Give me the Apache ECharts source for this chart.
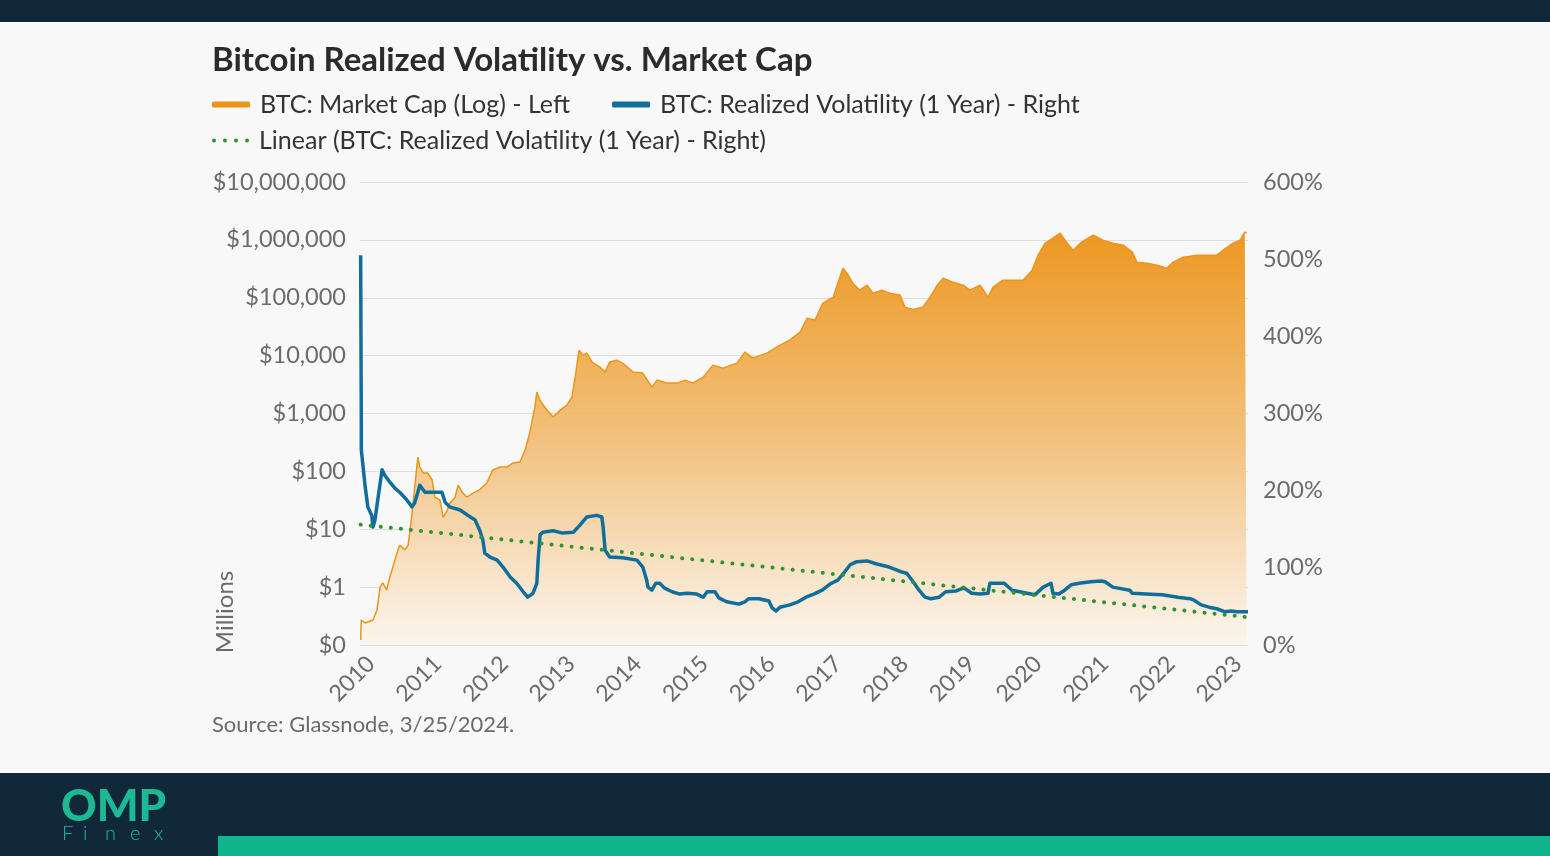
<!DOCTYPE html>
<html>
<head>
<meta charset="utf-8">
<script src="https://cdn.jsdelivr.net/npm/echarts@6/dist/echarts.min.js"></script>
<style>
html,body{margin:0;padding:0;background:#F8F8F8;}
#chart{width:1550px;height:856px;}
</style>
</head>
<body>
<div id="chart"></div>
<script>
// Market cap (USD millions, log scale) by fractional year
const mcapYears = [2010.55,2010.56,2010.62,2010.74,2010.80,2010.85,2010.89,2010.95,2011.00,2011.11,2011.15,2011.23,2011.28,2011.31,2011.35,2011.43,2011.46,2011.51,2011.58,2011.65,2011.69,2011.77,2011.82,2011.88,2011.92,2012.00,2012.05,2012.11,2012.18,2012.28,2012.38,2012.49,2012.58,2012.69,2012.80,2012.89,2013.00,2013.08,2013.15,2013.23,2013.26,2013.31,2013.38,2013.51,2013.62,2013.72,2013.80,2013.85,2013.91,2013.97,2014.03,2014.11,2014.23,2014.31,2014.38,2014.49,2014.58,2014.74,2014.89,2015.03,2015.11,2015.26,2015.42,2015.54,2015.66,2015.82,2015.97,2016.12,2016.34,2016.46,2016.58,2016.80,2017.00,2017.15,2017.31,2017.42,2017.54,2017.66,2017.82,2017.89,2017.97,2018.03,2018.12,2018.23,2018.34,2018.43,2018.57,2018.69,2018.85,2018.92,2019.05,2019.20,2019.31,2019.42,2019.51,2019.66,2019.82,2019.92,2020.08,2020.20,2020.28,2020.43,2020.58,2020.74,2020.88,2020.97,2021.08,2021.20,2021.31,2021.42,2021.51,2021.62,2021.69,2021.82,2021.97,2022.12,2022.28,2022.42,2022.49,2022.65,2022.80,2022.95,2023.05,2023.20,2023.42,2023.62,2023.72,2023.82,2023.97,2024.08,2024.15,2024.18];
const mcapValues = [0.122,0.27,0.24,0.27,0.40,1.0,1.18,0.89,1.5,3.9,5.3,4.4,5.3,9.7,24,177,119,94,94,71,36,32,16,21,28,35,58,44,36,42,48,63,105,119,119,139,145,233,458,1290,2340,1700,1290,867,1145,1397,1920,4255,12450,10200,11050,7730,6330,5190,7730,8360,7420,5190,4990,2860,3780,3350,3350,3780,3350,4255,6850,6080,7420,11480,9060,11050,15170,18530,25470,44460,41020,80700,102300,178600,324300,266100,178600,135200,165200,120000,135200,120000,110900,68870,63000,68870,102300,165200,218300,185900,165200,135200,165200,102300,152400,201400,201400,201400,299900,544500,877000,1069000,1306000,877000,663800,877000,988000,1205000,988000,877000,809000,613800,412100,396300,365600,324300,412100,502300,544500,544500,544500,663800,877000,988000,1358000,1306000];

// Realized volatility (1 year), percent
const volYears = [2010.55,2010.56,2010.56,2010.62,2010.66,2010.72,2010.74,2010.77,2010.82,2010.88,2010.92,2011.00,2011.08,2011.15,2011.26,2011.34,2011.38,2011.43,2011.46,2011.54,2011.72,2011.80,2011.85,2011.92,2012.08,2012.20,2012.31,2012.38,2012.43,2012.46,2012.54,2012.65,2012.74,2012.85,2012.95,2013.05,2013.12,2013.20,2013.26,2013.28,2013.31,2013.35,2013.51,2013.66,2013.82,2013.92,2014.03,2014.18,2014.26,2014.28,2014.31,2014.38,2014.58,2014.80,2014.89,2014.95,2014.97,2015.03,2015.09,2015.15,2015.22,2015.34,2015.46,2015.57,2015.72,2015.82,2015.88,2016.00,2016.06,2016.18,2016.37,2016.46,2016.52,2016.68,2016.83,2016.88,2016.94,2017.00,2017.15,2017.28,2017.40,2017.52,2017.65,2017.77,2017.89,2017.98,2018.08,2018.18,2018.34,2018.49,2018.68,2018.86,2018.95,2019.05,2019.14,2019.23,2019.32,2019.45,2019.55,2019.71,2019.83,2019.95,2020.08,2020.20,2020.23,2020.32,2020.45,2020.57,2020.69,2020.86,2020.92,2021.05,2021.17,2021.20,2021.29,2021.38,2021.48,2021.60,2021.78,2021.94,2022.00,2022.12,2022.38,2022.42,2022.63,2022.88,2023.12,2023.31,2023.37,2023.48,2023.60,2023.72,2023.85,2023.94,2024.03,2024.20];
const volValues = [505,292,253,205,179,168,153,162,192,227,220,211,203,198,188,179,184,198,207,198,198,198,185,179,175,168,162,149,136,119,114,110,101,88,80,69,62,67,80,110,143,146,148,145,146,155,166,168,166,153,123,114,113,110,101,84,75,71,80,80,74,69,66,67,66,62,69,69,61,56,53,56,60,60,57,48,44,49,52,56,62,66,71,79,84,93,104,108,109,105,101,95,93,82,71,62,60,62,69,70,74,67,66,67,80,80,80,71,69,66,65,75,80,67,66,71,78,80,82,83,82,75,71,67,66,65,62,60,58,52,49,47,43,44,43,43];

// Linear trend of realized volatility (end points), percent
const trendYears = [2010.55, 2024.2];
const trendValues = [156, 36];

// Axis tick labels
const xLabels = ['2010','2011','2012','2013','2014','2015','2016','2017','2018','2019','2020','2021','2022','2023'];
const seriesNames = ['BTC: Market Cap (Log) - Left','BTC: Realized Volatility (1 Year) - Right','Linear (BTC: Realized Volatility (1 Year) - Right)'];

const zip = (xs, ys) => xs.map((x, i) => [x, ys[i]]);
const FONT = 'Lato, "Open Sans", sans-serif';
const AX = '#6B6B6B';
const DOTS = 'path://M0,2a2,2 0 1,0 4,0a2,2 0 1,0 -4,0M11,2a2,2 0 1,0 4,0a2,2 0 1,0 -4,0M22,2a2,2 0 1,0 4,0a2,2 0 1,0 -4,0M33,2a2,2 0 1,0 4,0a2,2 0 1,0 -4,0';

const chart = echarts.init(document.getElementById('chart'), null, {renderer: 'canvas'});
chart.setOption({
  backgroundColor: '#F8F8F8',
  animation: false,
  textStyle: {fontFamily: FONT},
  title: {
    text: 'Bitcoin Realized Volatility vs. Market Cap',
    left: 207, top: 39,
    textStyle: {fontFamily: FONT, fontSize: 33, fontWeight: 'bold', color: '#2B2B2B'}
  },
  legend: [
    {
      data: [seriesNames[0], seriesNames[1]],
      left: 207, top: 87,
      icon: 'roundRect', itemWidth: 38, itemHeight: 6, itemGap: 42,
      textStyle: {fontFamily: FONT, fontSize: 25, color: '#333', padding: [0, 0, 0, 5]}
    },
    {
      data: [{name: seriesNames[2], icon: DOTS}],
      left: 207, top: 123,
      itemWidth: 37, itemHeight: 4,
      textStyle: {fontFamily: FONT, fontSize: 25, color: '#333', padding: [0, 0, 0, 5]}
    }
  ],
  grid: {left: 360, right: 302, top: 182, bottom: 211, containLabel: false},
  xAxis: [
    {type: 'value', min: 2010.54, max: 2024.2, show: true,
     axisLabel: {show: false}, axisTick: {show: false}, axisLine: {show: false}, splitLine: {show: false}},
    {type: 'value', min: -0.165, max: 13.15, position: 'bottom',
     axisLine: {show: false}, axisTick: {show: false}, splitLine: {show: false},
     axisLabel: {customValues: xLabels.map((_, i) => i), formatter: v => xLabels[Math.round(v)],
                 rotate: 45, fontSize: 23, color: AX, margin: 15, fontFamily: FONT}}
  ],
  yAxis: [
    {type: 'log', logBase: 10, min: 0.1, max: 1e7, position: 'left',
     axisLine: {show: false}, axisTick: {show: false},
     splitLine: {show: true, lineStyle: {color: '#DEDEDE', width: 1}},
     axisLabel: {fontSize: 23.5, color: AX, margin: 14, fontFamily: FONT,
       formatter: v => v < 1 ? '$0' : '$' + Math.round(v).toLocaleString('en-US')}},
    {type: 'value', min: 0, max: 600, interval: 100, position: 'right',
     axisLine: {show: false}, axisTick: {show: false}, splitLine: {show: false},
     axisLabel: {fontSize: 23.5, color: AX, margin: 15, fontFamily: FONT, formatter: '{value}%'}}
  ],
  graphic: [
    {type: 'rect', shape: {x: 0, y: 0, width: 1550, height: 22}, style: {fill: '#11283B'}, silent: true},
    {type: 'rect', shape: {x: 0, y: 773, width: 1550, height: 83}, style: {fill: '#11283B'}, silent: true},
    {type: 'rect', shape: {x: 218, y: 836, width: 1332, height: 20}, style: {fill: '#10B48D'}, silent: true},
    {type: 'text', x: 61, y: 785, style: {text: 'OMP', fill: '#1DB995', font: '900 44px Lato, sans-serif'}},
    {type: 'text', x: 62, y: 824, style: {text: 'F', fill: '#1DB995', font: '300 20px Lato, sans-serif'}},
    {type: 'text', x: 83, y: 824, style: {text: 'i', fill: '#1DB995', font: '300 20px Lato, sans-serif'}},
    {type: 'text', x: 105, y: 824, style: {text: 'n', fill: '#1DB995', font: '300 20px Lato, sans-serif'}},
    {type: 'text', x: 130, y: 824, style: {text: 'e', fill: '#1DB995', font: '300 20px Lato, sans-serif'}},
    {type: 'text', x: 154, y: 824, style: {text: 'x', fill: '#1DB995', font: '300 20px Lato, sans-serif'}},
    {type: 'text', x: 225, y: 612, rotation: Math.PI / 2,
     style: {text: 'Millions', fill: AX, font: '24px Lato, sans-serif', align: 'center', verticalAlign: 'middle'}},
    {type: 'text', x: 212, y: 725,
     style: {text: 'Source: Glassnode, 3/25/2024.', fill: AX, font: '22px Lato, sans-serif', verticalAlign: 'middle'}}
  ],
  series: [
    {name: seriesNames[0], type: 'line', xAxisIndex: 0, yAxisIndex: 0,
     data: zip(mcapYears, mcapValues), symbol: 'none', color: '#EE9418', z: 1,
     lineStyle: {color: '#EE9418', width: 1.5},
     areaStyle: {origin: 'start', opacity: 0.93,
       color: new echarts.graphic.LinearGradient(0, 0, 0, 1, [
         {offset: 0, color: '#EC9011'}, {offset: 0.5, color: '#F2BD74'}, {offset: 1, color: '#FBF5EE'}])}},
    {name: seriesNames[1], type: 'line', xAxisIndex: 0, yAxisIndex: 1,
     data: zip(volYears, volValues), symbol: 'none', color: '#0F6E9C', z: 3,
     lineStyle: {color: '#0F6E9C', width: 3.5, join: 'round'}},
    {name: seriesNames[2], type: 'line', xAxisIndex: 0, yAxisIndex: 1,
     data: zip(trendYears, trendValues), symbol: 'none', color: '#2E9430', z: 4,
     lineStyle: {color: '#2E9430', width: 4, type: [0.1, 10], cap: 'round'}}
  ]
});
</script>
</body>
</html>
